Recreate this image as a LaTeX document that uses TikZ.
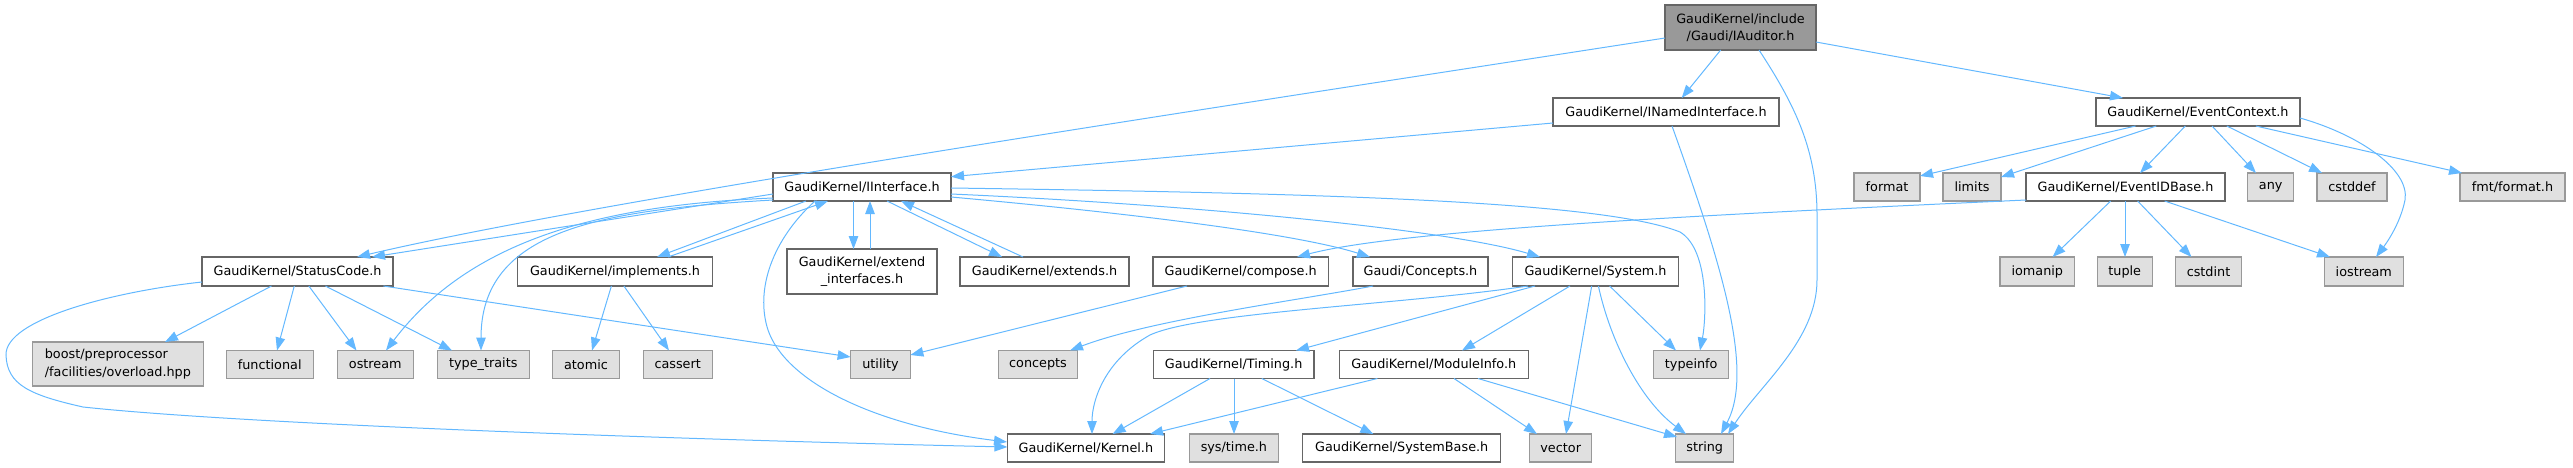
\documentclass[tikz,border=0pt]{standalone}
\usepackage{fontspec}
\setmainfont{DejaVu Sans}
\usetikzlibrary{arrows.meta}
\definecolor{edgeblue}{HTML}{63B8FF}
\definecolor{bordark}{HTML}{666666}
\definecolor{borlight}{HTML}{999999}
\definecolor{fillgray}{HTML}{E0E0E0}
\definecolor{rootfill}{HTML}{999999}
\begin{document}
\begin{tikzpicture}[x=1pt,y=-1pt,
 nodebase/.style={rectangle, inner sep=0pt, align=center, line width=1.1pt, font=\fontsize{12.8}{17.3}\selectfont, text=black},
 wbox/.style={nodebase, draw=bordark, fill=white},
 gbox/.style={nodebase, draw=borlight, fill=fillgray},
 rbox/.style={nodebase, draw=bordark, fill=rootfill},
 dep/.style={draw=edgeblue, line width=1pt, -{Triangle[length=13pt,width=9.5pt]}},
]
\useasboundingbox (0,0) rectangle (2573,468);

% row 0
\node[rbox, minimum width=151pt, minimum height=45pt] (root) at (1740.5,27.5) {GaudiKernel/include\\/Gaudi/IAuditor.h};
% row 1
\node[wbox, minimum width=226pt, minimum height=28pt] (ini) at (1666,112) {GaudiKernel/INamedInterface.h};
\node[wbox, minimum width=204pt, minimum height=28pt] (ec) at (2198,112) {GaudiKernel/EventContext.h};
% row 2
\node[wbox, minimum width=178pt, minimum height=28pt] (ii) at (862,187) {GaudiKernel/IInterface.h};
\node[gbox, minimum width=66pt, minimum height=28pt] (fmt) at (1887,187) {format};
\node[gbox, minimum width=58pt, minimum height=28pt] (lim) at (1972,187) {limits};
\node[wbox, minimum width=199pt, minimum height=28pt] (eib) at (2125.5,187) {GaudiKernel/EventIDBase.h};
\node[gbox, minimum width=45.6pt, minimum height=28pt] (any) at (2270.7,187) {any};
\node[gbox, minimum width=70pt, minimum height=28pt] (cstddef) at (2352,187) {cstddef};
\node[gbox, minimum width=105pt, minimum height=28pt] (fmtf) at (2512.5,187) {fmt/format.h};
% row 3
\node[wbox, minimum width=191pt, minimum height=29pt] (sc) at (297.5,271.5) {GaudiKernel/StatusCode.h};
\node[wbox, minimum width=195pt, minimum height=29pt] (impl) at (615,271.5) {GaudiKernel/implements.h};
\node[wbox, minimum width=150pt, minimum height=45pt] (extif) at (862,271.5) {GaudiKernel/extend\\\_interfaces.h};
\node[wbox, minimum width=169pt, minimum height=29pt] (exts) at (1044.5,271.5) {GaudiKernel/extends.h};
\node[wbox, minimum width=175.5pt, minimum height=29pt] (comp) at (1240.7,271.5) {GaudiKernel/compose.h};
\node[wbox, minimum width=135pt, minimum height=29pt] (conc) at (1420.5,271.5) {Gaudi/Concepts.h};
\node[wbox, minimum width=166pt, minimum height=29pt] (sys) at (1595.5,271.5) {GaudiKernel/System.h};
\node[gbox, minimum width=74.6pt, minimum height=29pt] (ioman) at (2037.3,271.5) {iomanip};
\node[gbox, minimum width=54.7pt, minimum height=29pt] (tup) at (2124.7,271.5) {tuple};
\node[gbox, minimum width=65.5pt, minimum height=29pt] (cstdint) at (2208.5,271.5) {cstdint};
\node[gbox, minimum width=79.2pt, minimum height=29pt] (iost) at (2363.8,271.5) {iostream};
% row 4
\node[gbox, minimum width=170.4pt, minimum height=44pt, align=left] (boost) at (117.9,364) {boost/preprocessor\\/facilities/overload.hpp};
\node[gbox, minimum width=86.7pt, minimum height=28pt] (func) at (269.7,364.5) {functional};
\node[gbox, minimum width=76pt, minimum height=28pt] (ostr) at (375.3,364.5) {ostream};
\node[gbox, minimum width=92pt, minimum height=28pt] (tt) at (483.3,364.5) {type\_traits};
\node[gbox, minimum width=66.7pt, minimum height=28pt] (atom) at (586,364.5) {atomic};
\node[gbox, minimum width=68.8pt, minimum height=28pt] (cass) at (677.7,364.5) {cassert};
\node[gbox, minimum width=59.7pt, minimum height=28pt] (util) at (880.5,364.5) {utility};
\node[gbox, minimum width=78.7pt, minimum height=28pt] (concs) at (1038,364.5) {concepts};
\node[wbox, minimum width=160.8pt, minimum height=28pt] (tim) at (1233.6,364.5) {GaudiKernel/Timing.h};
\node[wbox, minimum width=189pt, minimum height=28pt] (mod) at (1433.8,364.5) {GaudiKernel/ModuleInfo.h};
\node[gbox, minimum width=75.4pt, minimum height=28pt] (tinfo) at (1691.2,364.5) {typeinfo};
% row 5
\node[wbox, minimum width=157pt, minimum height=28pt] (kern) at (1085.9,448) {GaudiKernel/Kernel.h};
\node[gbox, minimum width=89pt, minimum height=28pt] (stime) at (1233.9,448) {sys/time.h};
\node[wbox, minimum width=197.7pt, minimum height=28pt] (sysb) at (1401.7,448) {GaudiKernel/SystemBase.h};
\node[gbox, minimum width=62pt, minimum height=28pt] (vec) at (1560.7,448) {vector};
\node[gbox, minimum width=58.4pt, minimum height=28pt] (str) at (1704.7,448) {string};

% ---- edges from root
\draw[dep] ([shift={(-75.5,10.5)}]root.center) .. controls (1200,110) and (600,200) .. ([shift={(59.5,-14.5)}]sc.center);
\draw[dep] ([shift={(-19.8,22.5)}]root.center) -- ([shift={(15.7,-14)}]ini.center);
\draw[dep] ([shift={(18.5,22.5)}]root.center) .. controls (1795,105) and (1817,150) .. (1817,215) -- (1817,280) .. controls (1817,340) and (1760,385) .. ([shift={(23.3,-14)}]str.center);
\draw[dep] ([shift={(75.5,14.5)}]root.center) -- ([shift={(-75,-14)}]ec.center);
% ---- INamedInterface
\draw[dep] ([shift={(-113,11)}]ini.center) -- ([shift={(89,-10.3)}]ii.center);
\draw[dep] ([shift={(6,14)}]ini.center) .. controls (1720,260) and (1755,370) .. ([shift={(16.3,-14)}]str.center);
% ---- IInterface
\draw[dep] ([shift={(-89,7)}]ii.center) -- ([shift={(74.5,-14.5)}]sc.center);
\draw[dep] ([shift={(-89,11)}]ii.center) .. controls (600,205) and (470,240) .. ([shift={(10.7,-14)}]ostr.center);
\draw[dep] ([shift={(-89,13)}]ii.center) .. controls (600,210) and (481,230) .. ([shift={(-2.3,-14)}]tt.center);
\draw[dep] ([shift={(-56,14)}]ii.center) -- ([shift={(42,-14.5)}]impl.center);
\draw[dep] ([shift={(53,-14.5)}]impl.center) -- ([shift={(-34,14)}]ii.center);
\draw[dep] ([shift={(-8.5,14)}]ii.center) -- ([shift={(-8.5,-22.5)}]extif.center);
\draw[dep] ([shift={(8,-22.5)}]extif.center) -- ([shift={(8,14)}]ii.center);
\draw[dep] ([shift={(25,14)}]ii.center) -- ([shift={(-42.5,-14.5)}]exts.center);
\draw[dep] ([shift={(-21.5,-14.5)}]exts.center) -- ([shift={(39,14)}]ii.center);
\draw[dep] ([shift={(-47,14)}]ii.center) .. controls (772,240) and (755,290) .. (768,330) .. controls (785,380) and (870,425) .. ([shift={(-78.9,-6)}]kern.center);
\draw[dep] ([shift={(89,1)}]ii.center) .. controls (1300,193) and (1600,200) .. (1680,232) .. controls (1710,250) and (1706,320) .. ([shift={(8.8,-14)}]tinfo.center);
\draw[dep] ([shift={(89,7)}]ii.center) .. controls (1200,205) and (1450,230) .. ([shift={(-55.5,-14.5)}]sys.center);
\draw[dep] ([shift={(89,10)}]ii.center) .. controls (1150,215) and (1300,235) .. ([shift={(-50.5,-14.5)}]conc.center);
% ---- StatusCode
\draw[dep] ([shift={(-26,14.5)}]sc.center) -- ([shift={(47.1,-22)}]boost.center);
\draw[dep] ([shift={(-3.2,14.5)}]sc.center) -- ([shift={(7.3,-14)}]func.center);
\draw[dep] ([shift={(11.3,14.5)}]sc.center) -- ([shift={(-18.8,-14)}]ostr.center);
\draw[dep] ([shift={(27.9,14.5)}]sc.center) -- ([shift={(-31.3,-14)}]tt.center);
\draw[dep] ([shift={(85.9,14.5)}]sc.center) -- ([shift={(-29.85,-7.5)}]util.center);
\draw[dep] ([shift={(-95.5,10.5)}]sc.center) .. controls (110,292) and (5,320) .. (6,355) .. controls (7,385) and (30,395) .. (83,407) .. controls (250,425) and (700,440) .. ([shift={(-78.5,-1)}]kern.center);
% ---- implements
\draw[dep] ([shift={(-3.6,14.5)}]impl.center) -- ([shift={(6,-14)}]atom.center);
\draw[dep] ([shift={(8.9,14.5)}]impl.center) -- ([shift={(-8.7,-14)}]cass.center);
% ---- compose, Concepts
\draw[dep] ([shift={(-53.7,14.5)}]comp.center) -- ([shift={(29.85,-9.5)}]util.center);
\draw[dep] ([shift={(-47.5,14.5)}]conc.center) .. controls (1300,300) and (1150,320) .. ([shift={(32,-14)}]concs.center);
% ---- System
\draw[dep] ([shift={(-67.5,14.5)}]sys.center) .. controls (1400,305) and (1200,312) .. (1150,335) .. controls (1105,360) and (1092,400) .. ([shift={(6.1,-14)}]kern.center);
\draw[dep] ([shift={(-60.5,14.5)}]sys.center) -- ([shift={(62.4,-14)}]tim.center);
\draw[dep] ([shift={(-25.5,14.5)}]sys.center) -- ([shift={(28.2,-14)}]mod.center);
\draw[dep] ([shift={(-3.8,14.5)}]sys.center) -- ([shift={(5.3,-14)}]vec.center);
\draw[dep] ([shift={(2.9,14.5)}]sys.center) .. controls (1610,340) and (1640,400) .. ([shift={(-18.7,-14)}]str.center);
\draw[dep] ([shift={(14.1,14.5)}]sys.center) -- ([shift={(-15.2,-14)}]tinfo.center);
% ---- Timing
\draw[dep] ([shift={(-23.6,14)}]tim.center) -- ([shift={(26.7,-14)}]kern.center);
\draw[dep] ([shift={(0.4,14)}]tim.center) -- ([shift={(0.1,-14)}]stime.center);
\draw[dep] ([shift={(28.2,14)}]tim.center) -- ([shift={(-28.4,-14)}]sysb.center);
% ---- ModuleInfo
\draw[dep] ([shift={(-56.4,14)}]mod.center) -- ([shift={(64.1,-14)}]kern.center);
\draw[dep] ([shift={(20.2,14)}]mod.center) -- ([shift={(-23.7,-14)}]vec.center);
\draw[dep] ([shift={(44.2,14)}]mod.center) -- ([shift={(-27.7,-11)}]str.center);
% ---- EventContext
\draw[dep] ([shift={(-62.4,14)}]ec.center) -- ([shift={(33,-11)}]fmt.center);
\draw[dep] ([shift={(-41.7,14)}]ec.center) -- ([shift={(29,-10)}]lim.center);
\draw[dep] ([shift={(-12.7,14)}]ec.center) -- ([shift={(14.5,-14)}]eib.center);
\draw[dep] ([shift={(14,14)}]ec.center) -- ([shift={(-14.7,-14)}]any.center);
\draw[dep] ([shift={(28.8,14)}]ec.center) -- ([shift={(-30,-14)}]cstddef.center);
\draw[dep] ([shift={(57.8,14)}]ec.center) -- ([shift={(-50.5,-14)}]fmtf.center);
\draw[dep] ([shift={(102,6)}]ec.center) .. controls (2360,135) and (2410,170) .. (2405,200) .. controls (2400,225) and (2385,245) .. ([shift={(12.2,-14.5)}]iost.center);
% ---- EventIDBase
\draw[dep] ([shift={(-99.5,13)}]eib.center) .. controls (1700,215) and (1400,230) .. ([shift={(56.3,-14.5)}]comp.center);
\draw[dep] ([shift={(-14.8,14)}]eib.center) -- ([shift={(15.3,-14.5)}]ioman.center);
\draw[dep] ([shift={(-0.5,14)}]eib.center) -- ([shift={(0.3,-14.5)}]tup.center);
\draw[dep] ([shift={(12.1,14)}]eib.center) -- ([shift={(-17,-14.5)}]cstdint.center);
\draw[dep] ([shift={(39.1,14)}]eib.center) -- ([shift={(-33.8,-14.5)}]iost.center);
\end{tikzpicture}
\end{document}
